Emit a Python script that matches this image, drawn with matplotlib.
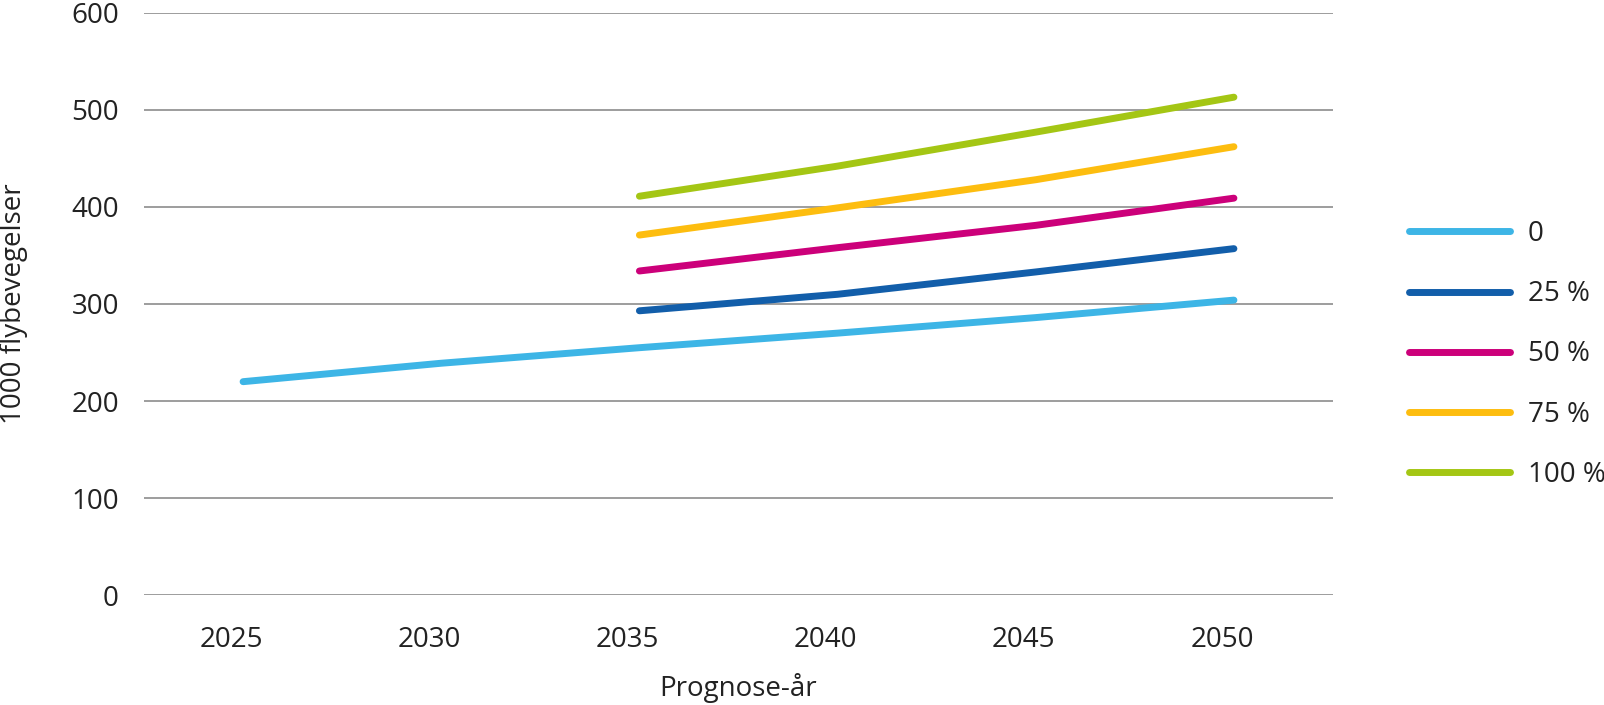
import matplotlib
matplotlib.use("Agg")
import matplotlib.pyplot as plt
import matplotlib.transforms as mtransforms
import numpy as np

plt.rcParams['font.family'] = ['Open Sans', 'DejaVu Sans']

# Data (1000 aircraft movements)
years = ['2025', '2030', '2035', '2040', '2045', '2050']
series_names = ['0', '25 %', '50 %', '75 %', '100 %']
s_0 = [220, 239, 255, 270, 286, 304]
s_25 = [None, None, 293, 310, 333, 357]
s_50 = [None, None, 334, 358, 381, 409]
s_75 = [None, None, 371, 399, 428, 462]
s_100 = [None, None, 411, 442, 477, 513]
colors = ['#3db5e6', '#125eaa', '#cc007a', '#fdbd0f', '#a4c614']

all_series = [s_0, s_25, s_50, s_75, s_100]

fig = plt.figure(figsize=(16.04, 7.05), dpi=100)
ax = fig.add_axes([144 / 1604, 1 - 595.3 / 705, (1333 - 144) / 1604, (595.3 - 12.7) / 705])

x = np.arange(len(years))
for name, vals, col in zip(series_names, all_series, colors):
    xs = [xi for xi, v in zip(x, vals) if v is not None]
    ys = [v for v in vals if v is not None]
    ax.plot(xs, ys, color=col, lw=5, solid_capstyle='round', label=name, zorder=3)

ax.set_xlim(-0.5, len(years) - 0.5)
ax.set_ylim(0, 600)
ax.set_yticks(range(0, 601, 100))
ax.set_xticks(x)
ax.set_xticklabels(years)

for yv in range(0, 601, 100):
    ax.axhline(yv, color='#8c8c8c', lw=1.2, zorder=1)

for s in ax.spines.values():
    s.set_visible(False)
ax.tick_params(axis='both', length=0, labelsize=20, colors='#222222')
ax.tick_params(axis='y', pad=18)
ax.tick_params(axis='x', pad=22)

# year labels sit a little left of the category centres in the original
offset = mtransforms.ScaledTranslation(-12 / 100, 0, fig.dpi_scale_trans)
for lbl in ax.get_xticklabels():
    lbl.set_transform(lbl.get_transform() + offset)

ax.set_xlabel('Prognose-år', fontsize=20, color='#222222', labelpad=14)
ax.set_ylabel('1000 flybevegelser', fontsize=20, color='#222222', labelpad=31)

leg = ax.legend(loc='upper left', bbox_to_anchor=(1384 / 1604, 1 - 195 / 705),
                bbox_transform=fig.transFigure, frameon=False, fontsize=20,
                handlelength=3.63, handletextpad=0.65, labelspacing=1.16)
for t in leg.get_texts():
    t.set_color('#222222')

fig.savefig('out.png', dpi=100)
